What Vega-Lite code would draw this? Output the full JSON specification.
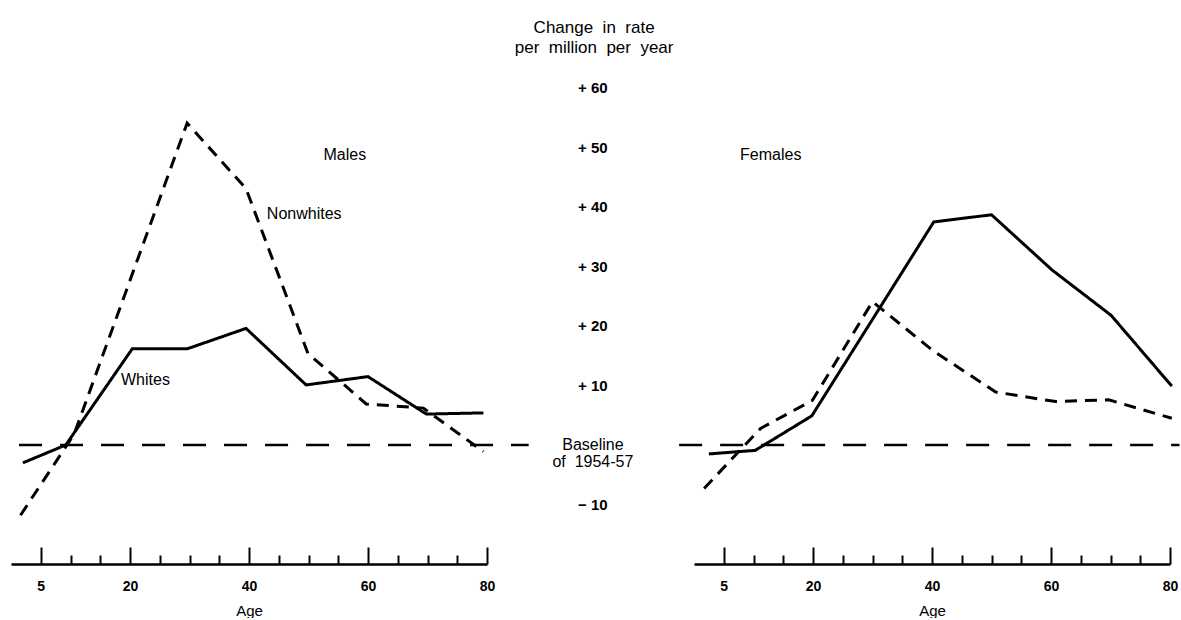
{
  "$schema": "https://vega.github.io/schema/vega-lite/v6.json",
  "background": "white",
  "padding": {"left": 11, "top": 0, "right": 0, "bottom": 0},
  "bounds": "flush",
  "spacing": 207,
  "config": {"view": {"stroke": null}, "font": "Liberation Sans"},
  "datasets": {
    "males": [
      {"group": "Whites", "age": 2.0, "value": -3.0},
      {"group": "Whites", "age": 9.2, "value": 0.0},
      {"group": "Whites", "age": 20.4, "value": 16.2},
      {"group": "Whites", "age": 29.7, "value": 16.2},
      {"group": "Whites", "age": 39.5, "value": 19.6},
      {"group": "Whites", "age": 49.6, "value": 10.1},
      {"group": "Whites", "age": 60.0, "value": 11.5},
      {"group": "Whites", "age": 69.8, "value": 5.2},
      {"group": "Whites", "age": 79.4, "value": 5.4},
      {"group": "Nonwhites", "age": 1.6, "value": -11.8},
      {"group": "Nonwhites", "age": 10.6, "value": 1.8},
      {"group": "Nonwhites", "age": 29.6, "value": 54.1},
      {"group": "Nonwhites", "age": 39.5, "value": 43.1},
      {"group": "Nonwhites", "age": 49.9, "value": 15.4},
      {"group": "Nonwhites", "age": 59.7, "value": 6.9},
      {"group": "Nonwhites", "age": 69.3, "value": 6.2},
      {"group": "Nonwhites", "age": 79.4, "value": -1.1}
    ],
    "females": [
      {"group": "Whites", "age": 2.5, "value": -1.5},
      {"group": "Whites", "age": 10.3, "value": -0.9},
      {"group": "Whites", "age": 19.8, "value": 4.9},
      {"group": "Whites", "age": 40.3, "value": 37.5},
      {"group": "Whites", "age": 50.0, "value": 38.7},
      {"group": "Whites", "age": 60.2, "value": 29.4},
      {"group": "Whites", "age": 70.1, "value": 21.8},
      {"group": "Whites", "age": 80.3, "value": 9.9},
      {"group": "Nonwhites", "age": 1.7, "value": -7.3},
      {"group": "Nonwhites", "age": 11.2, "value": 2.8},
      {"group": "Nonwhites", "age": 19.9, "value": 7.5},
      {"group": "Nonwhites", "age": 30.0, "value": 24.1},
      {"group": "Nonwhites", "age": 40.1, "value": 15.9},
      {"group": "Nonwhites", "age": 50.7, "value": 8.9},
      {"group": "Nonwhites", "age": 60.8, "value": 7.3},
      {"group": "Nonwhites", "age": 69.7, "value": 7.6},
      {"group": "Nonwhites", "age": 80.3, "value": 4.5}
    ],
    "scaleLabels": [
      {"value": 60, "label": "+ 60"},
      {"value": 50, "label": "+ 50"},
      {"value": 40, "label": "+ 40"},
      {"value": 30, "label": "+ 30"},
      {"value": 20, "label": "+ 20"},
      {"value": 10, "label": "+ 10"},
      {"value": 0, "label": "Baseline\nof\u00a0\u00a01954-57"},
      {"value": -10, "label": "\u2212 10"}
    ]
  },
  "hconcat": [
    {
      "width": 476,
      "height": 564,
      "resolve": {"axis": {"x": "independent"}},
      "layer": [
        {
          "data": {"values": [{"label": "Baseline of 1954-57"}]},
          "mark": {"type": "rule", "color": "black", "strokeWidth": 2.5, "strokeDash": [23, 18]},
          "encoding": {
            "x": {"datum": 1.35, "type": "quantitative",
              "scale": {"domain": [0, 80], "nice": false, "zero": false},
              "axis": {"orient": "bottom", "values": [10, 15, 25, 30, 35, 45, 50, 55, 65, 70, 75], "tickSize": -9, "tickWidth": 2, "tickColor": "black", "domain": false, "labels": false, "grid": false, "title": null}},
            "x2": {"datum": 87},
            "y": {"datum": 0, "type": "quantitative", "scale": {"domain": [-20, 74.8], "nice": false, "zero": false}, "axis": null}
          }
        },
        {
          "data": {"name": "males"},
          "mark": {"type": "line", "color": "black", "strokeWidth": 3},
          "encoding": {
            "x": {"field": "age", "type": "quantitative",
              "scale": {"domain": [0, 80], "nice": false, "zero": false},
              "axis": {"orient": "bottom", "values": [5, 20, 40, 60, 80], "tickSize": -17, "tickWidth": 2, "tickColor": "black",
                "domainColor": "black", "domainWidth": 2.5, "grid": false,
                "labelFontWeight": "bold", "labelFontSize": 14, "labelColor": "black", "labelPadding": 32, "labelFlush": false, "labelOverlap": false,
                "title": "Age", "titleFontSize": 15, "titleFontWeight": "normal", "titleColor": "black", "titlePadding": 10}},
            "y": {"field": "value", "type": "quantitative", "scale": {"domain": [-20, 74.8], "nice": false, "zero": false}, "axis": null},
            "detail": {"field": "group"},
            "strokeDash": {"field": "group", "type": "nominal", "scale": {"domain": ["Whites", "Nonwhites"], "range": [[1, 0], [12, 8]]}, "legend": null}
          }
        },
        {
          "data": {"name": "scaleLabels"},
          "transform": [{"filter": "datum.value != 0"}],
          "mark": {"type": "text", "align": "center", "baseline": "middle", "color": "black", "fontSize": 15, "fontWeight": "bold"},
          "encoding": {
            "x": {"datum": 97.8, "type": "quantitative", "axis": null},
            "y": {"field": "value", "type": "quantitative", "axis": null},
            "text": {"field": "label"}
          }
        },
        {
          "data": {"name": "scaleLabels"},
          "transform": [{"filter": "datum.value == 0"}],
          "mark": {"type": "text", "align": "center", "baseline": "middle", "color": "black", "fontSize": 16, "fontWeight": "normal", "lineBreak": "\n", "lineHeight": 17},
          "encoding": {
            "x": {"datum": 97.8, "type": "quantitative", "axis": null},
            "y": {"field": "value", "type": "quantitative", "axis": null},
            "text": {"field": "label"}
          }
        },
        {
          "data": {"values": [{"label": "Change\u00a0\u00a0in\u00a0\u00a0rate\nper\u00a0\u00a0million\u00a0\u00a0per\u00a0\u00a0year"}]},
          "mark": {"type": "text", "fontSize": 17, "align": "center", "baseline": "middle", "color": "black", "lineBreak": "\n", "lineHeight": 20},
          "encoding": {
            "x": {"datum": 98.0, "type": "quantitative", "axis": null},
            "y": {"datum": 70.1, "type": "quantitative", "axis": null},
            "text": {"field": "label"}
          }
        },
        {
          "data": {"values": [{"label": "Males"}]},
          "mark": {"type": "text", "fontSize": 16, "align": "center", "baseline": "middle", "color": "black"},
          "encoding": {
            "x": {"datum": 56.1, "type": "quantitative", "axis": null},
            "y": {"datum": 48.7, "type": "quantitative", "axis": null},
            "text": {"field": "label"}
          }
        },
        {
          "data": {"values": [{"label": "Nonwhites"}]},
          "mark": {"type": "text", "fontSize": 16, "align": "left", "baseline": "middle", "color": "black"},
          "encoding": {
            "x": {"datum": 43.0, "type": "quantitative", "axis": null},
            "y": {"datum": 38.9, "type": "quantitative", "axis": null},
            "text": {"field": "label"}
          }
        },
        {
          "data": {"values": [{"label": "Whites"}]},
          "mark": {"type": "text", "fontSize": 16, "align": "center", "baseline": "middle", "color": "black"},
          "encoding": {
            "x": {"datum": 22.6, "type": "quantitative", "axis": null},
            "y": {"datum": 10.9, "type": "quantitative", "axis": null},
            "text": {"field": "label"}
          }
        }
      ]
    },
    {
      "width": 476,
      "height": 564,
      "resolve": {"axis": {"x": "independent"}},
      "layer": [
        {
          "data": {"values": [{"label": "Baseline of 1954-57"}]},
          "mark": {"type": "rule", "color": "black", "strokeWidth": 2.5, "strokeDash": [23, 18]},
          "encoding": {
            "x": {"datum": -2.5, "type": "quantitative",
              "scale": {"domain": [0, 80], "nice": false, "zero": false},
              "axis": {"orient": "bottom", "values": [10, 15, 25, 30, 35, 45, 50, 55, 65, 70, 75], "tickSize": -9, "tickWidth": 2, "tickColor": "black", "domain": false, "labels": false, "grid": false, "title": null}},
            "x2": {"datum": 81.6},
            "y": {"datum": 0, "type": "quantitative", "scale": {"domain": [-20, 74.8], "nice": false, "zero": false}, "axis": null}
          }
        },
        {
          "data": {"name": "females"},
          "mark": {"type": "line", "color": "black", "strokeWidth": 3},
          "encoding": {
            "x": {"field": "age", "type": "quantitative",
              "scale": {"domain": [0, 80], "nice": false, "zero": false},
              "axis": {"orient": "bottom", "values": [5, 20, 40, 60, 80], "tickSize": -17, "tickWidth": 2, "tickColor": "black",
                "domainColor": "black", "domainWidth": 2.5, "grid": false,
                "labelFontWeight": "bold", "labelFontSize": 14, "labelColor": "black", "labelPadding": 32, "labelFlush": false, "labelOverlap": false,
                "title": "Age", "titleFontSize": 15, "titleFontWeight": "normal", "titleColor": "black", "titlePadding": 10}},
            "y": {"field": "value", "type": "quantitative", "scale": {"domain": [-20, 74.8], "nice": false, "zero": false}, "axis": null},
            "detail": {"field": "group"},
            "strokeDash": {"field": "group", "type": "nominal", "scale": {"domain": ["Whites", "Nonwhites"], "range": [[1, 0], [12, 8]]}, "legend": null}
          }
        },
        {
          "data": {"values": [{"label": "Females"}]},
          "mark": {"type": "text", "fontSize": 16, "align": "center", "baseline": "middle", "color": "black"},
          "encoding": {
            "x": {"datum": 12.9, "type": "quantitative", "axis": null},
            "y": {"datum": 48.7, "type": "quantitative", "axis": null},
            "text": {"field": "label"}
          }
        }
      ]
    }
  ]
}
